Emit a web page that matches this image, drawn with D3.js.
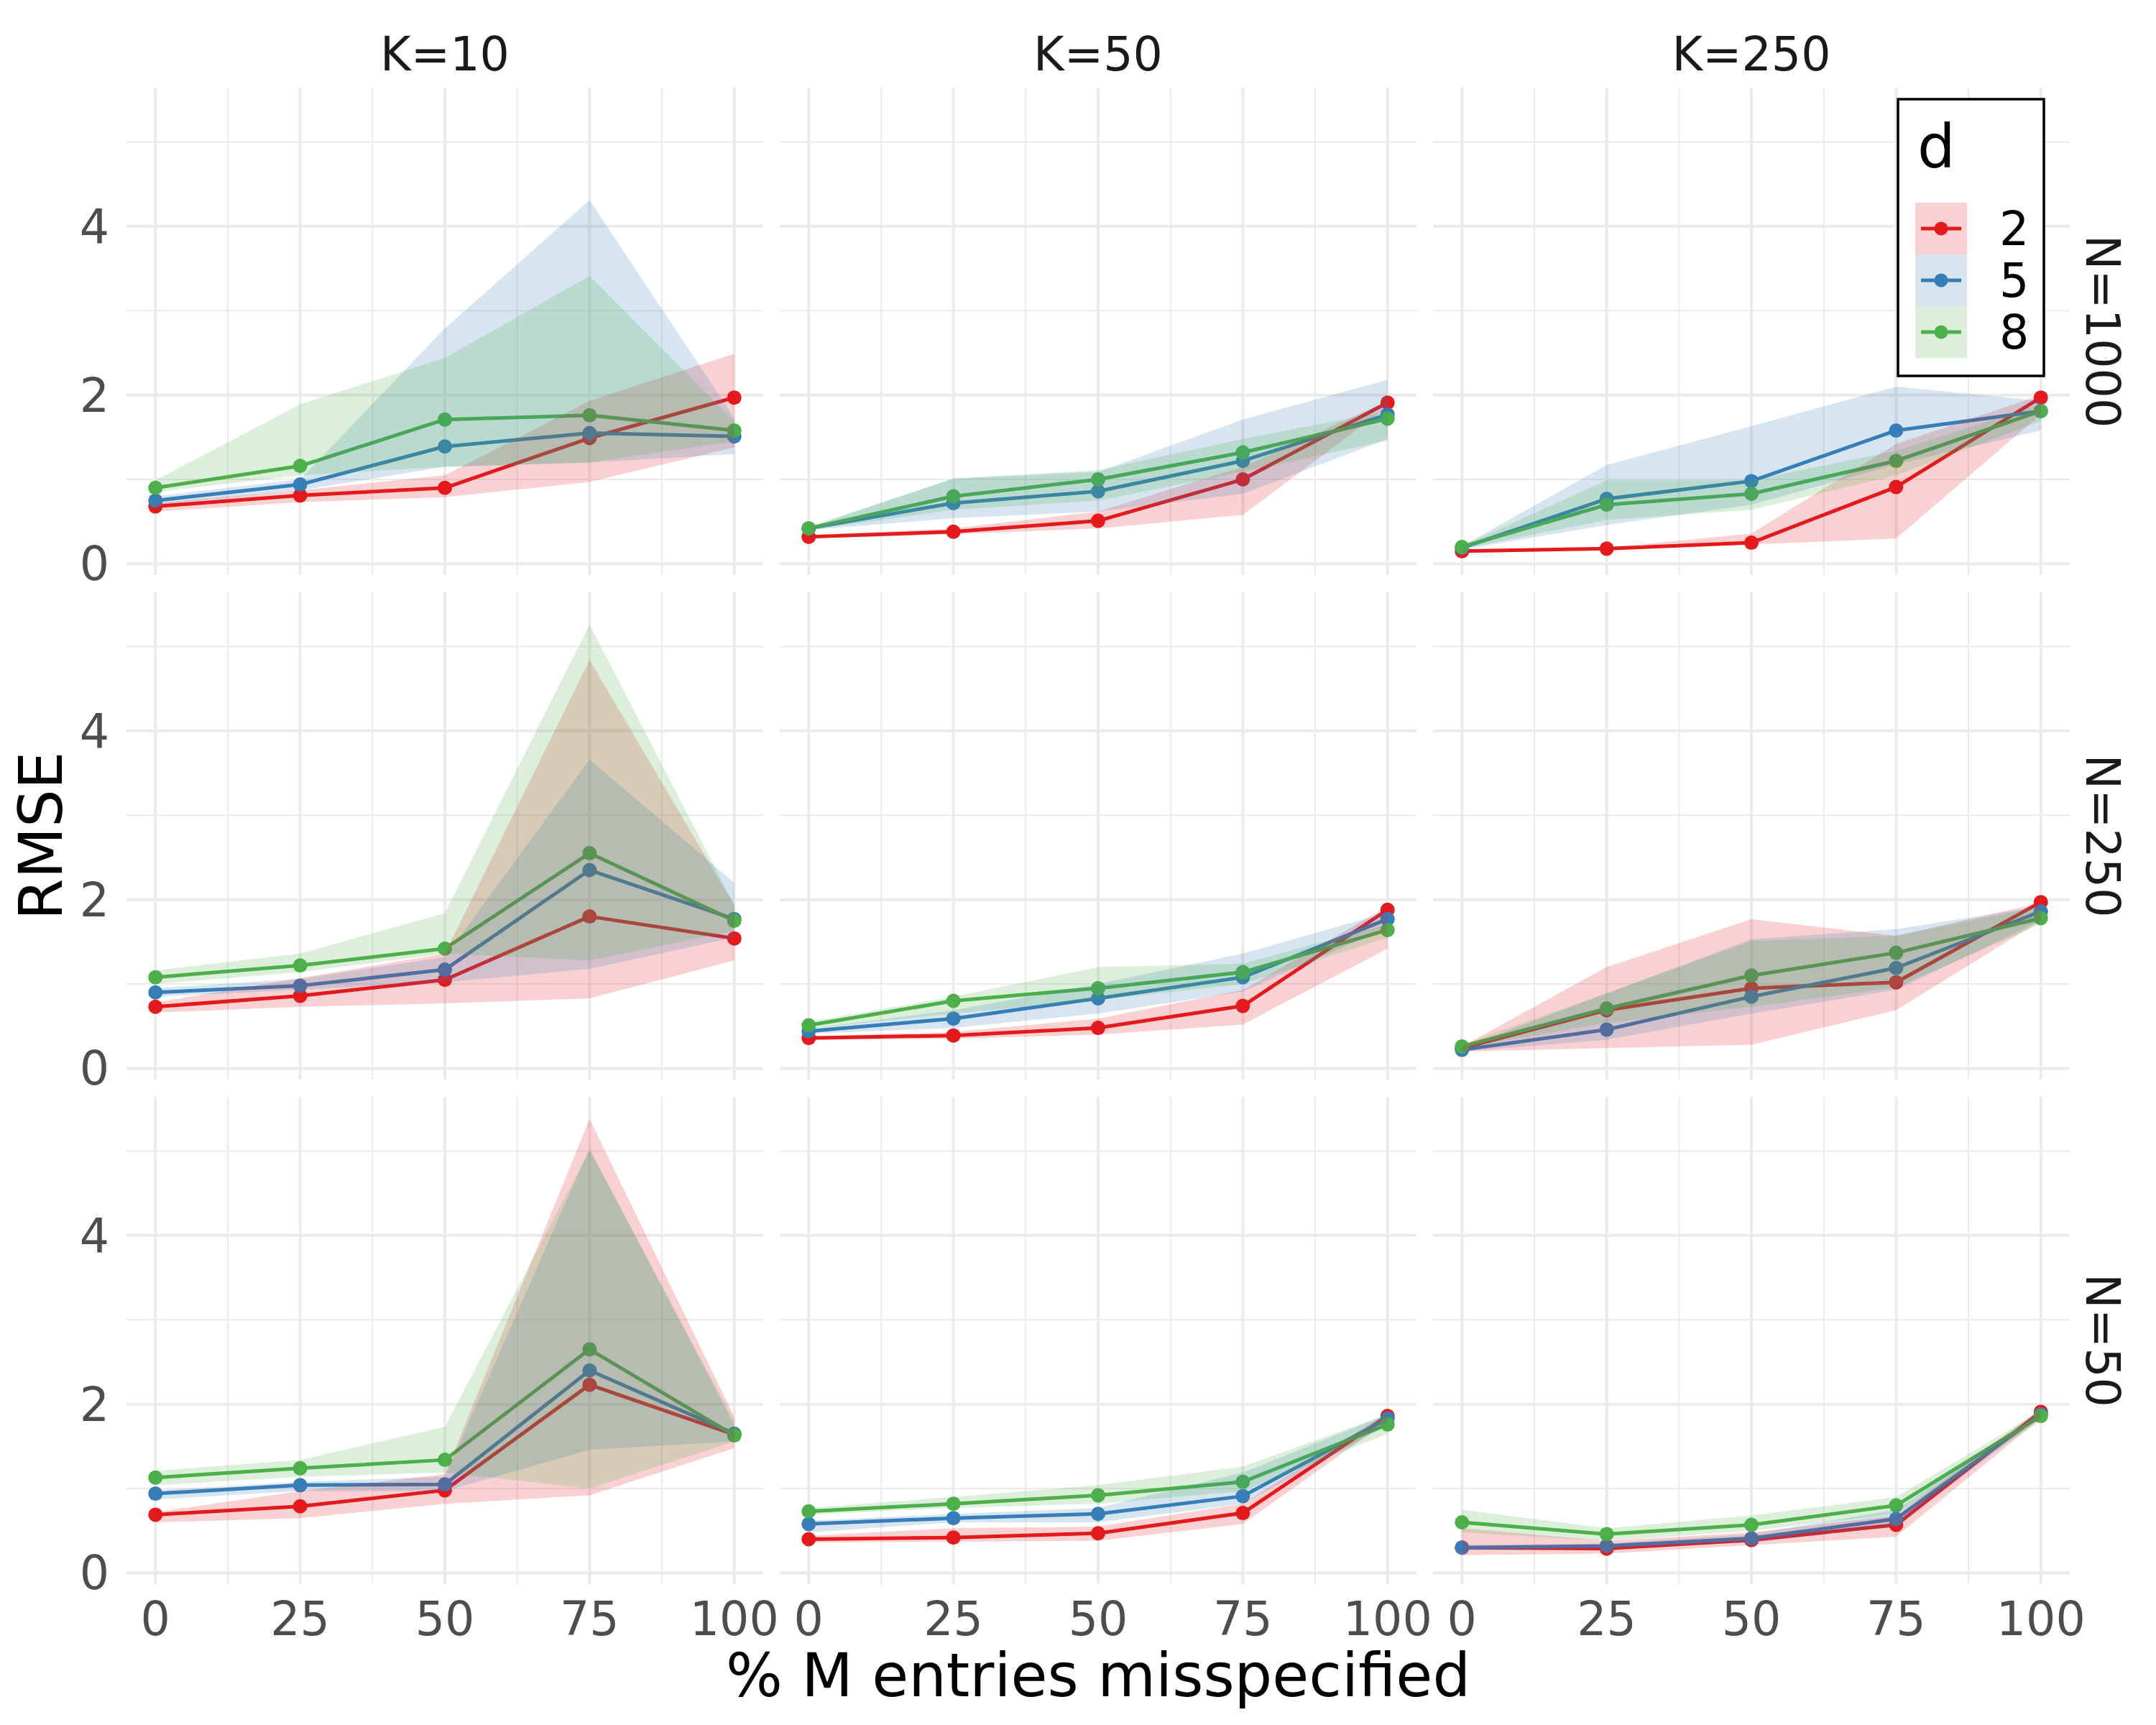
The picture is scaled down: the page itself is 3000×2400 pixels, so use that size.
<!DOCTYPE html>
<html>
<head>
<meta charset="utf-8">
<script src="https://cdn.jsdelivr.net/npm/d3@7"></script>
<style>
  body { margin: 0; background: #fff; }
  svg text { font-family: "DejaVu Sans", sans-serif; }
</style>
</head>
<body>
<svg id="chart" width="3000" height="2400"></svg>
<script>
// facets and x values
const pct = [0, 25, 50, 75, 100]
const kLabels = ["K=10", "K=50", "K=250"]
const nLabels = ["N=1000", "N=250", "N=50"]
const dLabels = ["2", "5", "8"]
const dColors = ["#E41A1C", "#377EB8", "#4DAF4A"]
const yTicks = [0, 2, 4]

// one row per panel, panels ordered N=1000 (K=10,50,250), N=250 (...), N=50 (...)
const meanD2 = [
  [0.68, 0.81, 0.90, 1.49, 1.97], [0.32, 0.38, 0.51, 1.00, 1.91], [0.15, 0.18, 0.25, 0.91, 1.97],
  [0.73, 0.86, 1.05, 1.80, 1.54], [0.36, 0.39, 0.48, 0.74, 1.88], [0.24, 0.69, 0.95, 1.02, 1.97],
  [0.69, 0.79, 0.98, 2.23, 1.64], [0.40, 0.42, 0.47, 0.71, 1.86], [0.30, 0.29, 0.39, 0.57, 1.91]]
const lowD2 = [
  [0.62, 0.73, 0.79, 0.97, 1.38], [0.30, 0.35, 0.42, 0.58, 1.86], [0.13, 0.16, 0.23, 0.30, 1.77],
  [0.66, 0.73, 0.77, 0.83, 1.28], [0.34, 0.35, 0.40, 0.52, 1.42], [0.20, 0.24, 0.28, 0.69, 1.75],
  [0.60, 0.65, 0.82, 0.92, 1.48], [0.36, 0.37, 0.38, 0.58, 1.80], [0.21, 0.23, 0.33, 0.43, 1.83]]
const highD2 = [
  [0.72, 0.87, 1.05, 1.93, 2.49], [0.34, 0.42, 0.62, 1.15, 1.93], [0.16, 0.19, 0.36, 1.42, 2.00],
  [0.78, 1.07, 1.36, 4.84, 1.93], [0.38, 0.43, 0.59, 0.93, 1.92], [0.26, 1.20, 1.77, 1.57, 1.96],
  [0.72, 0.97, 1.17, 5.38, 1.85], [0.44, 0.53, 0.55, 0.82, 1.90], [0.53, 0.38, 0.48, 0.68, 1.95]]

const meanD5 = [
  [0.75, 0.94, 1.39, 1.55, 1.51], [0.42, 0.72, 0.86, 1.22, 1.77], [0.19, 0.77, 0.98, 1.58, 1.81],
  [0.90, 0.98, 1.17, 2.35, 1.77], [0.44, 0.59, 0.83, 1.08, 1.77], [0.22, 0.46, 0.85, 1.19, 1.86],
  [0.94, 1.04, 1.05, 2.40, 1.65], [0.58, 0.65, 0.70, 0.91, 1.83], [0.30, 0.32, 0.41, 0.64, 1.88]]
const lowD5 = [
  [0.70, 0.87, 1.15, 1.20, 1.30], [0.40, 0.54, 0.62, 0.83, 1.48], [0.17, 0.46, 0.70, 1.18, 1.58],
  [0.85, 0.93, 1.02, 1.18, 1.55], [0.41, 0.48, 0.65, 0.91, 1.67], [0.20, 0.34, 0.65, 0.93, 1.75],
  [0.87, 0.97, 0.97, 1.46, 1.56], [0.48, 0.60, 0.60, 0.82, 1.75], [0.27, 0.29, 0.36, 0.55, 1.84]]
const highD5 = [
  [0.80, 1.00, 2.79, 4.31, 1.73], [0.43, 1.01, 1.09, 1.71, 2.18], [0.21, 1.17, 1.63, 2.10, 1.93],
  [0.95, 1.06, 1.32, 3.66, 2.20], [0.47, 0.69, 1.00, 1.36, 1.85], [0.24, 0.89, 1.53, 1.65, 1.92],
  [0.98, 1.08, 1.14, 5.03, 1.75], [0.62, 0.70, 0.77, 1.19, 1.88], [0.33, 0.35, 0.46, 0.75, 1.91]]

const meanD8 = [
  [0.90, 1.16, 1.71, 1.76, 1.58], [0.42, 0.80, 1.00, 1.32, 1.72], [0.20, 0.70, 0.83, 1.22, 1.81],
  [1.08, 1.22, 1.42, 2.55, 1.75], [0.51, 0.80, 0.95, 1.14, 1.64], [0.26, 0.71, 1.10, 1.37, 1.78],
  [1.13, 1.24, 1.34, 2.65, 1.63], [0.73, 0.82, 0.92, 1.08, 1.76], [0.60, 0.46, 0.57, 0.80, 1.86]]
const lowD8 = [
  [0.85, 1.05, 1.15, 1.20, 1.45], [0.40, 0.64, 0.75, 1.09, 1.46], [0.18, 0.52, 0.64, 1.05, 1.69],
  [1.00, 1.14, 1.36, 1.28, 1.63], [0.47, 0.65, 0.81, 1.00, 1.55], [0.24, 0.54, 0.73, 0.96, 1.71],
  [1.04, 1.14, 1.19, 1.00, 1.56], [0.69, 0.77, 0.82, 0.97, 1.65], [0.48, 0.38, 0.50, 0.70, 1.80]]
const highD8 = [
  [0.99, 1.89, 2.44, 3.41, 1.69], [0.44, 1.01, 1.11, 1.48, 1.81], [0.21, 0.99, 0.99, 1.34, 1.89],
  [1.16, 1.36, 1.84, 5.26, 1.94], [0.55, 0.85, 1.20, 1.24, 1.71], [0.28, 0.89, 1.51, 1.57, 1.92],
  [1.21, 1.34, 1.73, 5.01, 1.80], [0.77, 0.90, 1.04, 1.26, 1.88], [0.75, 0.53, 0.68, 0.90, 1.92]]

const means = [meanD2, meanD5, meanD8]
const lows = [lowD2, lowD5, lowD8]
const highs = [highD2, highD5, highD8]

// layout
var colLeft = [176, 1085, 1994], rowTop = [122, 824, 1526]
var panelW = 886, panelH = 678
var tickSize = 65, titleSize = 83

var svg = d3.select("#chart")

var allVals = lows.flat(2).concat(highs.flat(2), means.flat(2))
var yMin = d3.min(allVals), yMax = d3.max(allVals), yPad = (yMax - yMin) * 0.05
var xScale = d3.scaleLinear().domain([-5, 105]).range([0, panelW])
var yScale = d3.scaleLinear().domain([yMin - yPad, yMax + yPad]).range([panelH, 0])

var area = d3.area().x((d, i) => xScale(pct[i])).y0(d => yScale(d[0])).y1(d => yScale(d[1]))
var line = d3.line().x((d, i) => xScale(pct[i])).y(d => yScale(d))

nLabels.forEach((nLab, r) => {
  kLabels.forEach((kLab, c) => {
    var p = r * 3 + c
    var g = svg.append("g").attr("transform", "translate(" + colLeft[c] + "," + rowTop[r] + ")")

    // grid: minor then major
    var yMinor = d3.range(1, 6, 2), xMinor = [12.5, 37.5, 62.5, 87.5]
    g.selectAll(".hminor").data(yMinor).join("line").attr("x1", 0).attr("x2", panelW)
      .attr("y1", d => yScale(d)).attr("y2", d => yScale(d)).attr("stroke", "#EBEBEB").attr("stroke-width", 2)
    g.selectAll(".vminor").data(xMinor).join("line").attr("y1", 0).attr("y2", panelH)
      .attr("x1", d => xScale(d)).attr("x2", d => xScale(d)).attr("stroke", "#EBEBEB").attr("stroke-width", 2)
    g.selectAll(".hmajor").data(yTicks).join("line").attr("x1", 0).attr("x2", panelW)
      .attr("y1", d => yScale(d)).attr("y2", d => yScale(d)).attr("stroke", "#EBEBEB").attr("stroke-width", 4)
    g.selectAll(".vmajor").data(pct).join("line").attr("y1", 0).attr("y2", panelH)
      .attr("x1", d => xScale(d)).attr("x2", d => xScale(d)).attr("stroke", "#EBEBEB").attr("stroke-width", 4)

    // lines and points
    dLabels.forEach((dl, k) => {
      g.append("path").datum(means[k][p]).attr("d", line).attr("fill", "none")
        .attr("stroke", dColors[k]).attr("stroke-width", 5).attr("stroke-linejoin", "round")
      g.selectAll(".pt" + k).data(means[k][p]).join("circle").attr("class", "pt" + k)
        .attr("cx", (d, i) => xScale(pct[i])).attr("cy", d => yScale(d)).attr("r", 10).attr("fill", dColors[k])
    })
    // ribbons on top, translucent
    dLabels.forEach((dl, k) => {
      var band = lows[k][p].map((v, i) => [v, highs[k][p][i]])
      g.append("path").datum(band).attr("d", area).attr("fill", dColors[k]).attr("fill-opacity", 0.2)
    })

    if (c == 0) {
      svg.selectAll(".ytick" + r).data(yTicks).join("text").attr("class", "ytick" + r)
        .attr("x", colLeft[0] - 24).attr("y", d => rowTop[r] + yScale(d) + 23)
        .attr("text-anchor", "end").attr("font-size", tickSize).attr("fill", "#4D4D4D").text(d => d)
    }
    if (r == 2) {
      svg.selectAll(".xtick" + c).data(pct).join("text").attr("class", "xtick" + c)
        .attr("x", d => colLeft[c] + xScale(d)).attr("y", 2275)
        .attr("text-anchor", "middle").attr("font-size", tickSize).attr("fill", "#4D4D4D").text(d => d)
    }
  })
})

// strips
svg.selectAll(".kstrip").data(kLabels).join("text").attr("class", "kstrip")
  .attr("x", (d, i) => colLeft[i] + panelW / 2).attr("y", 98)
  .attr("text-anchor", "middle").attr("font-size", tickSize).attr("fill", "#1A1A1A").text(d => d)
svg.selectAll(".nstrip").data(nLabels).join("text").attr("class", "nstrip")
  .attr("transform", (d, i) => "translate(2903," + (rowTop[i] + panelH / 2) + ") rotate(90)")
  .attr("text-anchor", "middle").attr("font-size", tickSize).attr("fill", "#1A1A1A").text(d => d)

// axis titles
svg.append("text").attr("x", (colLeft[0] + colLeft[2] + panelW) / 2).attr("y", 2360)
  .attr("text-anchor", "middle").attr("font-size", titleSize).attr("fill", "#000").text("% M entries misspecified")
svg.append("text").attr("transform", "translate(86," + (rowTop[0] + rowTop[2] + panelH) / 2 + ") rotate(-90)")
  .attr("text-anchor", "middle").attr("font-size", titleSize).attr("fill", "#000").text("RMSE")

// legend
var lg = svg.append("g").attr("transform", "translate(2641,138)")
lg.append("rect").attr("width", 203).attr("height", 385).attr("fill", "#fff").attr("stroke", "#000").attr("stroke-width", 3.5)
lg.append("text").attr("x", 27).attr("y", 95).attr("font-size", titleSize).attr("fill", "#000").text("d")
dLabels.forEach((dl, k) => {
  var cy = 180 + k * 72
  lg.append("line").attr("x1", 32).attr("x2", 88).attr("y1", cy).attr("y2", cy).attr("stroke", dColors[k]).attr("stroke-width", 5)
  lg.append("circle").attr("cx", 60).attr("cy", cy).attr("r", 9.5).attr("fill", dColors[k])
  lg.append("rect").attr("x", 24).attr("y", cy - 36).attr("width", 72).attr("height", 72).attr("fill", dColors[k]).attr("fill-opacity", 0.2)
  lg.append("text").attr("x", 141).attr("y", cy + 23).attr("font-size", tickSize).attr("fill", "#000").text(dl)
})
</script>
</body>
</html>
